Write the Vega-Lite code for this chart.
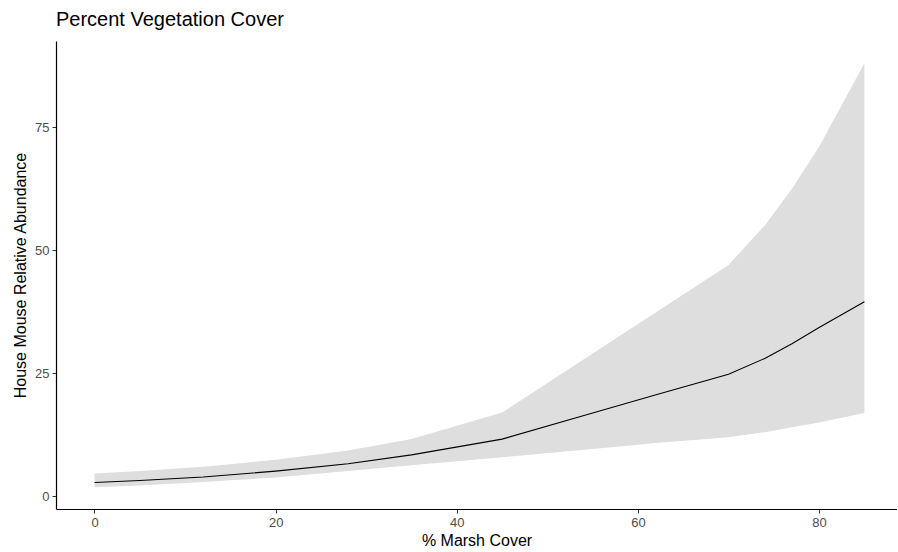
{
  "$schema": "https://vega.github.io/schema/vega-lite/v6.json",
  "autosize": {"type": "none"},
  "padding": {"left": 56, "top": 41, "right": 0, "bottom": 43},
  "width": 841,
  "height": 468,
  "background": "white",
  "title": {
    "text": "Percent Vegetation Cover",
    "anchor": "start",
    "frame": "group",
    "font": "Liberation Sans",
    "fontSize": 20,
    "fontWeight": "normal",
    "color": "#000000",
    "offset": 11
  },
  "config": {
    "view": {"stroke": null},
    "axis": {
      "grid": false,
      "domainColor": "#000000",
      "domainWidth": 1.2,
      "tickColor": "#333333",
      "tickSize": 4,
      "labelFont": "Liberation Sans",
      "labelFontSize": 13,
      "labelColor": "#4D4D4D",
      "titleFont": "Liberation Sans",
      "titleFontSize": 16,
      "titleFontWeight": "normal",
      "titleColor": "#000000"
    }
  },
  "data": {
    "values": [
      {"marsh": 0, "fit": 2.8, "lower": 1.8, "upper": 4.6},
      {"marsh": 5, "fit": 3.2, "lower": 2.2, "upper": 5.1},
      {"marsh": 12, "fit": 3.9, "lower": 2.9, "upper": 6.0},
      {"marsh": 20, "fit": 5.1, "lower": 3.8, "upper": 7.4},
      {"marsh": 28, "fit": 6.6, "lower": 5.1, "upper": 9.3},
      {"marsh": 35, "fit": 8.4, "lower": 6.3, "upper": 11.6},
      {"marsh": 45, "fit": 11.6, "lower": 7.9, "upper": 17.0},
      {"marsh": 55, "fit": 16.9, "lower": 9.6, "upper": 29.0},
      {"marsh": 62, "fit": 20.6, "lower": 10.8, "upper": 37.4},
      {"marsh": 70, "fit": 24.8, "lower": 12.0, "upper": 47.0},
      {"marsh": 74, "fit": 28.0, "lower": 13.0, "upper": 55.0},
      {"marsh": 77, "fit": 31.0, "lower": 14.0, "upper": 62.5},
      {"marsh": 80, "fit": 34.3, "lower": 15.0, "upper": 71.0},
      {"marsh": 85, "fit": 39.5, "lower": 16.9, "upper": 88.0}
    ]
  },
  "encoding": {
    "x": {
      "field": "marsh",
      "type": "quantitative",
      "scale": {"domain": [-4.25, 88.6], "nice": false, "zero": false},
      "axis": {"title": "% Marsh Cover", "values": [0, 20, 40, 60, 80], "labelPadding": 3, "titlePadding": 3}
    }
  },
  "layer": [
    {
      "mark": {"type": "area", "color": "#DEDEDE", "opacity": 1},
      "encoding": {
        "y": {
          "field": "lower",
          "type": "quantitative",
          "scale": {"domain": [-2.6, 92.5], "nice": false, "zero": false},
          "axis": {"title": "House Mouse Relative Abundance", "values": [0, 25, 50, 75], "labelPadding": 3, "titlePadding": 6}
        },
        "y2": {"field": "upper"}
      }
    },
    {
      "mark": {"type": "line", "color": "#000000", "strokeWidth": 1.1},
      "encoding": {
        "y": {"field": "fit", "type": "quantitative"}
      }
    }
  ]
}
